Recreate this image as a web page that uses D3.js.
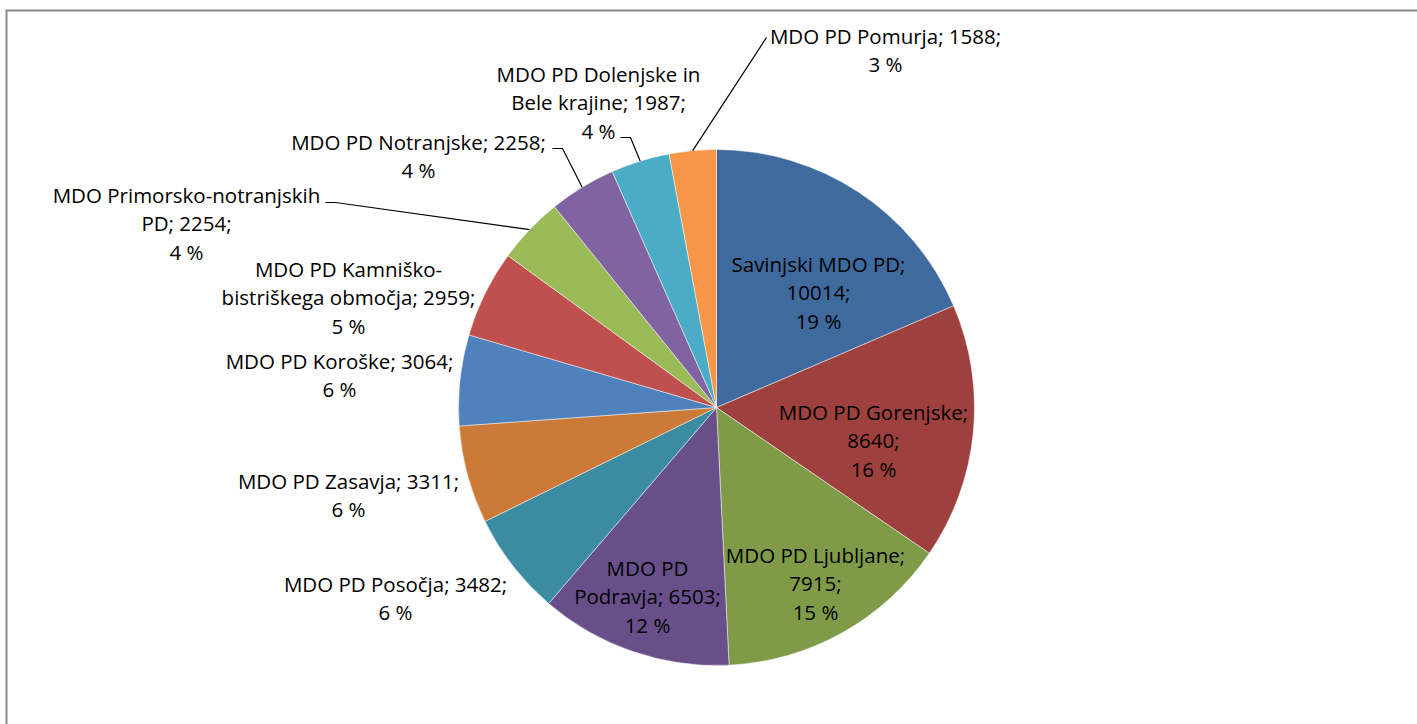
<!DOCTYPE html>
<html>
<head>
<meta charset="utf-8">
<script src="https://cdn.jsdelivr.net/npm/d3@7"></script>
<style>
  body { margin: 0; background: #fff; }
  text { font-family: "Open Sans", "Noto Sans", sans-serif; fill: #000; }
</style>
</head>
<body>
<div id="chart"></div>
<script>
// Data (clockwise from 12 o'clock)
const names = [
    "Savinjski MDO PD", "MDO PD Gorenjske", "MDO PD Ljubljane", "MDO PD Podravja",
    "MDO PD Posočja", "MDO PD Zasavja", "MDO PD Koroške",
    "MDO PD Kamniško-bistriškega območja", "MDO Primorsko-notranjskih PD",
    "MDO PD Notranjske", "MDO PD Dolenjske in Bele krajine", "MDO PD Pomurja"
];
const values = [10014, 8640, 7915, 6503, 3482, 3311, 3064, 2959, 2254, 2258, 1987, 1588];
const percents = ["19 %", "16 %", "15 %", "12 %", "6 %", "6 %", "6 %", "5 %", "4 %", "4 %", "4 %", "3 %"];
const colors = ["#3F6A9D", "#9E413E", "#7F9B48", "#694F89", "#3B8CA3", "#CB7A37",
                "#4F81BD", "#C0504D", "#9BBB59", "#8064A2", "#4BACC6", "#F79646"];

// Label line breaks as Excel wrapped them
const labelLines = [
    ["Savinjski MDO PD;", "10014;", "19 %"],
    ["MDO PD Gorenjske;", "8640;", "16 %"],
    ["MDO PD Ljubljane;", "7915;", "15 %"],
    ["MDO PD", "Podravja; 6503;", "12 %"],
    ["MDO PD Posočja; 3482;", "6 %"],
    ["MDO PD Zasavja; 3311;", "6 %"],
    ["MDO PD Koroške; 3064;", "6 %"],
    ["MDO PD Kamniško-", "bistriškega območja; 2959;", "5 %"],
    ["MDO Primorsko-notranjskih", "PD; 2254;", "4 %"],
    ["MDO PD Notranjske; 2258;", "4 %"],
    ["MDO PD Dolenjske in", "Bele krajine; 1987;", "4 %"],
    ["MDO PD Pomurja; 1588;", "3 %"]
];

// Layout: label block centre (first line centre) relative to pie centre, and leader start
const labelPos = [
    [102, -143], [157, 5], [99, 148], [-69, 161],
    [-321, 177], [-368, 74], [-377, -46], [-368, -138],
    [-530, -212], [-298, -265], [-118, -333], [169, -371]
];
const leaderStart = [null, null, null, null, null, null, null, null,
    [-391, -205], [-164, -259], [-96, -270], [50, -370]];

const width = 1417, height = 724;
const cx = 716.5, cy = 407.5, radius = 258;
const lineH = 28.8;

const svg = d3.select("#chart").append("svg")
    .attr("width", width).attr("height", height);

// chart frame
svg.append("rect")
    .attr("x", 6.5).attr("y", 10.5)
    .attr("width", width + 20).attr("height", height + 20)
    .attr("fill", "none").attr("stroke", "#8a8a8a").attr("stroke-width", 2);

const pie = d3.pie().sort(null).value(d => d)(values);
const arc = d3.arc().innerRadius(0).outerRadius(radius);

const g = svg.append("g").attr("transform", `translate(${cx},${cy})`);

g.selectAll("path")
    .data(pie)
    .join("path")
    .attr("d", arc)
    .attr("fill", (d, i) => colors[i])
    .attr("stroke", "#fff")
    .attr("stroke-opacity", 0.6)
    .attr("stroke-width", 0.8);

// leader lines
pie.forEach((d, i) => {
    const s = leaderStart[i];
    if (!s) return;
    const a = (d.startAngle + d.endAngle) / 2;
    const ex = radius * Math.sin(a), ey = -radius * Math.cos(a);
    const hx = s[0] + (ex > s[0] ? 10 : -10) * (i === 11 ? 0 : 1);
    g.append("path")
        .attr("d", `M${s[0]},${s[1]}L${hx},${s[1]}L${ex},${ey}`)
        .attr("fill", "none").attr("stroke", "#000").attr("stroke-width", 1.2);
});

// labels
labelLines.forEach((lines, i) => {
    const t = g.append("text")
        .attr("text-anchor", "middle")
        .attr("font-size", "20.5px")
        .attr("transform", `translate(${labelPos[i][0]},${labelPos[i][1]})`);
    lines.forEach((ln, j) => {
        t.append("tspan").attr("x", 0).attr("y", j * lineH).attr("dy", "0.35em").text(ln);
    });
});
</script>
</body>
</html>
